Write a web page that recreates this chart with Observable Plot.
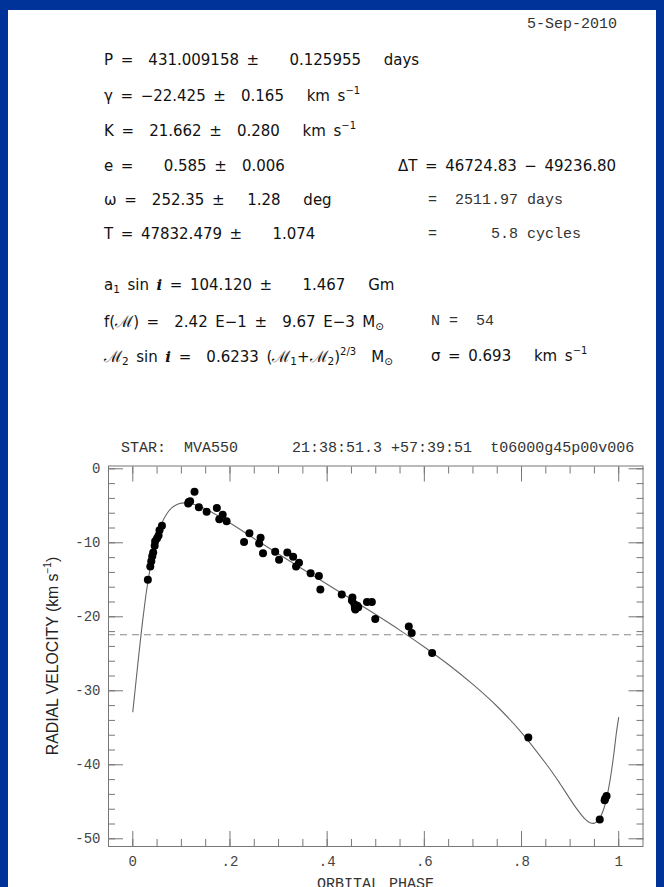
<!DOCTYPE html>
<html><head><meta charset="utf-8">
<script src="https://cdn.jsdelivr.net/npm/d3@7"></script>
<script src="https://cdn.jsdelivr.net/npm/@observablehq/plot@0.6"></script>
<style>
body{margin:0;width:664px;height:887px;background:#003399;position:relative;overflow:hidden}
#panel{position:absolute;left:8px;top:10px;width:648px;height:877px;background:#fff}
.s{position:absolute;white-space:pre;font-family:"DejaVu Sans",sans-serif;font-size:15px;line-height:15px;word-spacing:2.8px;color:#111}
.m{position:absolute;white-space:pre;font-family:"Liberation Mono","Courier New",monospace;font-size:15px;line-height:15px;color:#333}
sup{font-size:10px;vertical-align:7px;line-height:0;word-spacing:0}
sub{font-size:10.5px;vertical-align:-3px;line-height:0}
i{font-family:"DejaVu Serif",serif;font-style:italic;font-weight:bold}
em{font-family:"Liberation Sans",Arial,sans-serif;font-style:normal;font-size:16px}
#chart{position:absolute;left:0;top:430px}
#ylab{position:absolute;left:53px;top:656px;transform:translate(-50%,-50%) rotate(-90deg);white-space:nowrap;font-family:"Liberation Sans",Arial,sans-serif;font-size:15.8px;color:#222}
</style></head>
<body>
<div id="panel"></div>
<div id="texts"></div>
<div id="ylab">RADIAL VELOCITY (km s<sup>−1</sup>)</div>
<div id="chart"></div>
<script>
// Orbital-element text lines: [class, left, top, html]
const textLines = [
  ["m", null, 16.6, "5-Sep-2010"],
  ["s", 104, 53.1, "P =  431.009158 ±    0.125955   days"],
  ["s", 104, 89.1, "γ = −22.425 ±  0.165   km s<sup>−1</sup>"],
  ["s", 104, 124.1, "K =  21.662 ±  0.280   km s<sup>−1</sup>"],
  ["s", 104, 159.1, "e =    0.585 ±  0.006"],
  ["s", 398, 159.1, "ΔT = 46724.83 − 49236.80"],
  ["s", 104, 193.1, "ω =  252.35 ±   1.28   deg"],
  ["m", 428, 193, "=  2511.97 days"],
  ["s", 104, 227.1, "T = 47832.479 ±    1.074"],
  ["m", 428, 227, "=      5.8 cycles"],
  ["s", 104, 278.1, "a<sub>1</sub> sin <i>i</i> = 104.120 ±    1.467   Gm"],
  ["s", 104, 314.1, "f(<em>ℳ</em>) =  2.42 E−1 ±  9.67 E−3 M<sub>⊙</sub>"],
  ["m", 431, 314, "N =  54"],
  ["s", 104, 349.1, "<em>ℳ</em><sub>2</sub> sin <i>i</i> =  0.6233 (<em>ℳ</em><sub>1</sub>+<em>ℳ</em><sub>2</sub>)<sup>2/3</sup>  M<sub>⊙</sub>"],
  ["s", 431, 349.1, "σ = 0.693   km s<sup>−1</sup>"],
  ["m", 121, 440.5, "STAR:  MVA550      21:38:51.3 +57:39:51  t06000g45p00v006"],
  ["m", 317, 877, "ORBITAL PHASE"]
];
const tc = document.getElementById("texts");
for (const [cls, left, top, html] of textLines) {
  const d = document.createElement("div");
  d.className = cls;
  d.style.top = top + "px";
  if (left === null) d.style.right = "47px"; else d.style.left = left + "px";
  d.innerHTML = html.split(/( +)/).map(t => t.trim() === "" ? t : `<span>${t}</span>`).join("");
  tc.appendChild(d);
}

// Systemic velocity (dashed line)
const gamma = -22.425;

const obsPhase = [0.031,0.036,0.038,0.040,0.042,0.045,0.046,0.050,0.053,0.055,0.060,
  0.114,0.115,0.118,0.127,0.136,0.152,0.173,0.178,0.185,0.193,
  0.229,0.240,0.260,0.263,0.268,0.293,0.301,0.318,0.330,0.336,0.342,
  0.366,0.383,0.386,0.430,0.451,0.452,0.456,0.457,0.462,0.464,0.482,0.492,0.499,
  0.568,0.574,0.616,0.814,0.961,0.971,0.972,0.975,0.458];
const obsRV = [-15.0,-13.2,-12.5,-11.8,-11.3,-10.4,-9.8,-9.4,-9.0,-8.3,-7.7,
  -4.7,-4.5,-4.4,-3.1,-5.2,-5.8,-5.3,-6.8,-6.2,-7.1,
  -9.9,-8.7,-10.1,-9.3,-11.4,-11.2,-12.3,-11.3,-11.9,-13.2,-12.7,
  -14.1,-14.5,-16.3,-17.0,-17.8,-17.4,-18.3,-18.8,-18.5,-18.7,-18.0,-18.0,-20.3,
  -21.3,-22.2,-24.9,-36.3,-47.4,-44.8,-44.6,-44.2,-19.0];

// Orbital solution curve, sampled from the figure
const curvePhase = [0,0.005,0.01,0.015,0.02,0.025,0.03,0.04,0.05,0.06,0.07,0.08,0.09,0.10,0.11,0.12,0.13,0.15,
  0.20,0.25,0.30,0.35,0.40,0.45,0.50,0.55,0.60,0.65,0.70,0.75,0.80,0.85,0.87,0.88,0.89,0.90,0.91,0.92,0.93,
  0.94,0.95,0.96,0.97,0.975,0.98,0.985,0.99,0.995,1.0];
const curveRV = [-32.84,-29.73,-26.60,-23.56,-20.69,-18.07,-15.74,-11.94,-9.21,-7.31,-6.07,-5.28,-4.85,-4.64,-4.61,-4.71,-4.90,-5.44,
  -7.33,-9.44,-11.52,-13.58,-15.60,-17.63,-19.70,-21.83,-24.08,-26.48,-29.14,-32.12,-35.64,-39.82,-41.64,-42.63,-43.63,-44.64,-45.61,-46.49,-47.28,
  -47.80,-47.90,-47.35,-45.80,-44.54,-42.92,-40.90,-38.51,-35.80,-33.6];

// Axis ticks
const xMajor = [0,0.2,0.4,0.6,0.8,1];
const xMinor = d3.range(0,21).map(i=>i/20);
const yMajor = [0,-10,-20,-30,-40,-50];
const yMinor = d3.range(0,26).map(i=>-2*i);

const obs = obsPhase.map((p,i)=>({phase:p, rv:obsRV[i]}));
const curve = curvePhase.map((p,i)=>({phase:p, rv:curveRV[i]}));
const fmtX = d => d===0 ? "0" : d===1 ? "1" : String(d).replace("0.", ".");
const fmtY = d => String(d);
const axc = "#777";

const chart = Plot.plot({
  width: 664, height: 457,
  marginLeft: 108, marginRight: 21.5, marginTop: 35.5, marginBottom: 41,
  x: {domain: [-0.05, 1.05], axis: null},
  y: {domain: [-51.04, 0.38], axis: null},
  style: {background: "transparent", fontFamily: "'Liberation Mono', monospace", fontSize: "14px", color: "#444"},
  marks: [
    Plot.ruleY([gamma], {stroke: "#888", strokeDasharray: "7,5"}),
    Plot.line(curve, {x: "phase", y: "rv", stroke: "#666", strokeWidth: 1.1, curve: "catmull-rom"}),
    Plot.dot(obs, {x: "phase", y: "rv", r: 4, fill: "#000", stroke: "none"}),
    Plot.axisX(xMinor, {anchor: "bottom", tickSize: -7, fill: "none", stroke: axc, label: null}),
    Plot.axisX(xMajor, {anchor: "bottom", tickSize: -15, fill: "none", stroke: axc, label: null}),
    Plot.axisX(xMinor, {anchor: "top", tickSize: -7, fill: "none", stroke: axc, label: null}),
    Plot.axisX(xMajor, {anchor: "top", tickSize: -15, fill: "none", stroke: axc, label: null}),
    Plot.axisX(xMajor, {anchor: "bottom", tickSize: 0, tickPadding: 10, tickFormat: fmtX, fill: "#444", label: null}),
    Plot.axisY(yMinor, {anchor: "left", tickSize: -7, fill: "none", stroke: axc, label: null}),
    Plot.axisY(yMajor, {anchor: "left", tickSize: -15, fill: "none", stroke: axc, label: null}),
    Plot.axisY(yMinor, {anchor: "right", tickSize: -7, fill: "none", stroke: axc, label: null}),
    Plot.axisY(yMajor, {anchor: "right", tickSize: -15, fill: "none", stroke: axc, label: null}),
    Plot.axisY(yMajor, {anchor: "left", tickSize: 0, tickPadding: 8, tickFormat: fmtY, fill: "#444", label: null}),
    Plot.frame({stroke: axc})
  ]
});
document.getElementById("chart").appendChild(chart);
</script>
</body></html>
